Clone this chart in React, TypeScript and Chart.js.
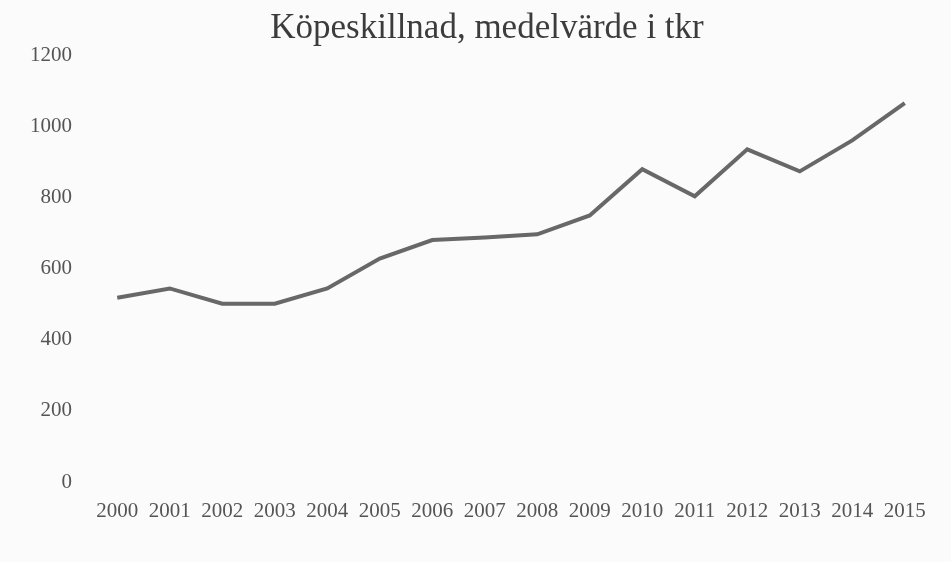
import React, { useEffect, useRef } from "react";
import { Chart, registerables } from "chart.js";

Chart.register(...registerables);

const years = ["2000","2001","2002","2003","2004","2005","2006","2007","2008","2009","2010","2011","2012","2013","2014","2015"];
const values = [518, 544, 501, 501, 544, 628, 680, 687, 696, 749, 879, 803, 935, 873, 960, 1065];
const yTicks = [0, 200, 400, 600, 800, 1000, 1200];
const titleText = "Köpeskillnad, medelvärde i tkr";

export default function App() {
  const ref = useRef<HTMLCanvasElement | null>(null);
  useEffect(() => {
    if (!ref.current) return;
    const bg = {
      id: "bg",
      beforeDraw(chart: any) {
        const { ctx, width, height } = chart;
        ctx.save();
        ctx.fillStyle = "#fbfbfb";
        ctx.fillRect(0, 0, width, height);
        ctx.restore();
      },
      afterDraw(chart: any) {
        const { ctx, chartArea } = chart;
        ctx.save();
        ctx.fillStyle = "#3c3c3c";
        ctx.font = "35px 'Liberation Serif'";
        ctx.textAlign = "center";
        ctx.textBaseline = "alphabetic";
        ctx.fillText(titleText, (chartArea.left + chartArea.right) / 2 - 24, 38);
        ctx.restore();
      },
    };
    const chart = new Chart(ref.current, {
      type: "line",
      data: {
        labels: years,
        datasets: [
          {
            data: values,
            borderColor: "#686868",
            borderWidth: 4,
            pointRadius: 0,
            tension: 0,
            fill: false,
          },
        ],
      },
      options: {
        animation: false,
        responsive: true,
        maintainAspectRatio: false,
        layout: { padding: { left: 0, right: 20, top: 55, bottom: 0 } },
        plugins: {
          legend: { display: false },
          tooltip: { enabled: false },
          title: { display: false },
        },
        scales: {
          x: {
            offset: true,
            afterFit: (s: any) => { s.height = 80; },
            grid: { display: false, drawTicks: false },
            border: { display: false },
            ticks: {
              color: "#555555",
              font: { family: "Liberation Serif", size: 21 },
              padding: 17,
              maxRotation: 0,
              autoSkip: false,
            },
          },
          y: {
            min: 0,
            max: 1200,
            afterFit: (s: any) => { s.width = 91; },
            afterBuildTicks: (s: any) => { s.ticks = yTicks.map((v) => ({ value: v })); },
            grid: { display: false, drawTicks: false },
            border: { display: false },
            ticks: {
              color: "#555555",
              font: { family: "Liberation Serif", size: 21 },
              padding: 19,
              callback: (v: any) => String(v),
            },
          },
        },
      },
      plugins: [bg],
    });
    return () => chart.destroy();
  }, []);
  return (
    <div style={{ position: "fixed", left: 0, top: 0, width: 951, height: 562 }}>
      <canvas ref={ref} />
    </div>
  );
}
